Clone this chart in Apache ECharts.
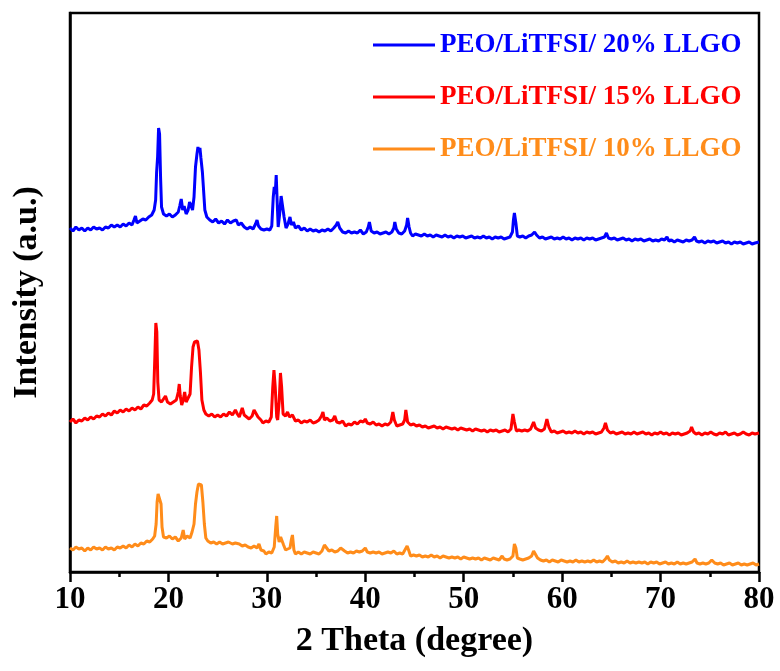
<!DOCTYPE html>
<html>
<head>
<meta charset="utf-8">
<script src="https://cdn.jsdelivr.net/npm/echarts@6/dist/echarts.min.js"></script>
<style>
html,body{margin:0;padding:0;background:#fff;}
#chart{width:780px;height:671px;}
</style>
</head>
<body>
<div id="chart"></div>
<script>
// Series names (legend labels)
const seriesNames = ["PEO/LiTFSI/ 20% LLGO", "PEO/LiTFSI/ 15% LLGO", "PEO/LiTFSI/ 10% LLGO"];
const seriesColors = ["#0000FF", "#FF0000", "#FF8C1A"];

// x tick values (2 Theta, degree)
const xTicks = [10, 20, 30, 40, 50, 60, 70, 80];

// 20% LLGO pattern: [2theta, intensity (a.u., offset stacked)]
const pattern20 = [
[10.0,344],[10.3,341],[10.6,345],[10.9,342],[11.2,344],[11.5,341],[11.8,344],[12.1,342],[12.4,345],[12.7,343],
[13.0,344],[13.3,342],[13.6,345],[13.9,344],[14.2,347],[14.5,345],[14.8,347],[15.1,345],[15.4,348],[15.7,346],
[16.0,349],[16.3,347],[16.5,352],[16.65,356],[16.8,349],[17.1,351],[17.4,353],[17.7,352],[18.0,355],[18.3,357],
[18.55,362],[18.7,372],[18.8,400],[18.9,415],[19.0,444],[19.1,438],[19.2,395],[19.3,365],[19.5,358],[19.8,356],
[20.1,358],[20.4,355],[20.7,357],[21.0,360],[21.15,366],[21.3,373],[21.45,362],[21.6,366],[21.8,358],[22.0,362],
[22.15,370],[22.3,372],[22.45,362],[22.6,375],[22.75,405],[22.9,418],[23.0,425],[23.1,420],[23.2,424],[23.3,414],
[23.45,400],[23.55,385],[23.7,362],[23.9,355],[24.2,352],[24.5,350],[24.8,353],[25.1,349],[25.4,351],[25.7,348],
[26.0,352],[26.3,349],[26.6,351],[26.9,352],[27.1,347],[27.4,349],[27.7,345],[28.0,343],[28.3,345],[28.6,343],
[28.85,348],[29.0,352],[29.15,346],[29.4,343],[29.7,342],[30.0,343],[30.3,342],[30.5,346],[30.65,375],[30.75,385],
[30.85,378],[30.95,397],[31.05,370],[31.15,345],[31.3,358],[31.45,376],[31.6,377],[31.75,355],[31.95,344],[32.15,348],
[32.35,355],[32.5,347],[32.7,350],[32.9,344],[33.2,346],[33.5,342],[33.8,344],[34.1,341],[34.4,343],[34.7,341],
[35.0,342],[35.3,340],[35.6,342],[35.9,341],[36.2,343],[36.5,341],[36.8,344],[37.05,347],[37.2,350],[37.4,344],
[37.7,340],[38.0,339],[38.3,341],[38.6,339],[38.9,340],[39.2,339],[39.5,342],[39.8,338],[40.1,340],[40.3,345],
[40.42,350],[40.6,341],[40.9,339],[41.2,340],[41.5,338],[41.8,339],[42.1,340],[42.4,338],[42.7,340],[42.9,344],
[43.0,350],[43.15,343],[43.4,339],[43.7,338],[44.0,341],[44.2,347],[44.3,354],[44.45,345],[44.6,339],[44.8,336],
[45.1,338],[45.4,337],[45.7,336],[46.0,338],[46.3,336],[46.6,337],[46.9,335],[47.2,337],[47.5,336],[47.8,335],
[48.1,337],[48.4,335],[48.7,336],[49.0,334],[49.3,336],[49.6,335],[49.9,336],[50.2,334],[50.5,335],[50.8,336],
[51.1,334],[51.4,335],[51.7,334],[52.0,336],[52.3,334],[52.6,335],[52.9,333],[53.2,335],[53.5,334],[53.8,335],
[54.1,333],[54.4,334],[54.7,335],[54.95,340],[55.05,352],[55.15,359],[55.3,349],[55.45,336],[55.7,335],[56.0,336],
[56.3,334],[56.6,336],[56.9,337],[57.2,340],[57.4,337],[57.7,334],[58.0,335],[58.3,333],[58.6,334],[58.9,335],
[59.2,333],[59.5,334],[59.8,333],[60.1,335],[60.4,333],[60.7,334],[61.0,332],[61.3,334],[61.6,333],[61.9,334],
[62.2,332],[62.5,334],[62.8,333],[63.1,334],[63.4,332],[63.7,333],[64.0,334],[64.3,335],[64.5,339],[64.7,334],
[65.0,333],[65.3,334],[65.6,332],[65.9,333],[66.2,334],[66.5,332],[66.8,333],[67.1,331],[67.4,333],[67.7,332],
[68.0,333],[68.3,331],[68.6,332],[68.9,333],[69.2,331],[69.5,332],[69.8,331],[70.1,333],[70.4,332],[70.65,335],
[70.85,331],[71.1,332],[71.4,330],[71.7,332],[72.0,331],[72.3,330],[72.6,332],[72.9,331],[73.2,332],[73.45,335],
[73.65,331],[73.9,330],[74.2,331],[74.5,329],[74.8,331],[75.1,330],[75.4,331],[75.7,329],[76.0,330],[76.3,331],
[76.6,329],[76.9,330],[77.2,328],[77.5,330],[77.8,329],[78.1,330],[78.4,328],[78.7,329],[79.0,330],[79.3,328],
[79.6,329],[80.0,330]
];

// 15% LLGO pattern
const pattern15 = [
[10.0,150],[10.3,153],[10.6,149],[10.9,152],[11.2,151],[11.5,154],[11.8,152],[12.1,155],[12.4,153],[12.7,156],
[13.0,155],[13.3,158],[13.6,156],[13.9,159],[14.2,157],[14.5,161],[14.8,159],[15.1,162],[15.4,160],[15.7,163],
[16.0,161],[16.3,164],[16.6,162],[16.9,165],[17.2,163],[17.5,167],[17.8,166],[18.1,169],[18.35,172],[18.5,178],
[18.62,215],[18.72,249],[18.82,240],[18.92,190],[19.05,172],[19.3,170],[19.5,172],[19.7,176],[19.9,170],[20.2,168],
[20.5,170],[20.8,172],[21.0,180],[21.1,188],[21.2,176],[21.35,167],[21.5,172],[21.65,180],[21.8,170],[22.0,174],
[22.2,178],[22.35,205],[22.5,225],[22.65,230],[22.8,228],[22.95,231],[23.1,222],[23.25,200],[23.4,172],[23.6,162],
[23.8,158],[24.1,156],[24.4,158],[24.7,155],[25.0,157],[25.3,155],[25.6,158],[25.9,156],[26.2,160],[26.5,157],
[26.8,162],[27.0,158],[27.2,155],[27.5,164],[27.7,157],[27.9,155],[28.2,153],[28.5,156],[28.7,162],[28.9,164],
[29.1,155],[29.4,152],[29.6,149],[29.9,151],[30.2,150],[30.45,155],[30.6,185],[30.72,202],[30.85,185],[31.0,155],
[31.1,152],[31.25,170],[31.38,199],[31.5,185],[31.65,158],[31.9,156],[32.1,160],[32.3,155],[32.6,157],[32.9,151],
[33.2,152],[33.5,149],[33.8,151],[34.1,150],[34.4,152],[34.7,149],[35.0,150],[35.3,152],[35.55,156],[35.7,160],
[35.85,152],[36.1,154],[36.4,151],[36.7,152],[36.9,156],[37.1,150],[37.4,149],[37.7,151],[38.0,146],[38.3,148],
[38.6,147],[38.9,150],[39.2,148],[39.5,151],[39.8,150],[40.0,153],[40.2,149],[40.5,148],[40.8,150],[41.1,147],
[41.4,148],[41.7,146],[42.0,148],[42.3,147],[42.6,150],[42.8,160],[42.95,152],[43.2,146],[43.5,147],[43.8,148],
[44.0,152],[44.12,162],[44.3,150],[44.6,147],[44.9,148],[45.2,146],[45.5,147],[45.8,145],[46.1,146],[46.4,144],
[46.7,145],[47.0,146],[47.3,144],[47.6,145],[47.9,143],[48.2,145],[48.5,144],[48.8,143],[49.1,144],[49.4,142],
[49.7,144],[50.0,143],[50.3,142],[50.6,143],[50.9,141],[51.2,143],[51.5,142],[51.8,141],[52.1,142],[52.4,140],
[52.7,142],[53.0,141],[53.3,142],[53.6,140],[53.9,141],[54.2,142],[54.5,140],[54.8,143],[55.0,158],[55.15,150],
[55.35,141],[55.6,142],[55.9,141],[56.2,142],[56.5,141],[56.8,143],[57.1,150],[57.3,144],[57.6,142],[57.9,141],
[58.2,143],[58.45,153],[58.65,145],[58.9,140],[59.2,141],[59.5,139],[59.8,140],[60.1,141],[60.4,139],[60.7,140],
[61.0,139],[61.3,141],[61.6,139],[61.9,140],[62.2,138],[62.5,140],[62.8,139],[63.1,140],[63.4,138],[63.7,139],
[64.0,140],[64.25,144],[64.4,149],[64.6,142],[64.9,139],[65.2,140],[65.5,138],[65.8,139],[66.1,140],[66.4,138],
[66.7,139],[67.0,138],[67.3,140],[67.6,138],[67.9,139],[68.2,140],[68.5,138],[68.8,139],[69.1,137],[69.4,139],
[69.7,138],[70.0,140],[70.3,138],[70.6,139],[70.9,137],[71.2,139],[71.5,138],[71.8,139],[72.1,137],[72.4,138],
[72.7,139],[73.0,141],[73.15,145],[73.35,140],[73.6,138],[73.9,139],[74.2,137],[74.5,139],[74.8,138],[75.1,140],
[75.4,138],[75.7,137],[76.0,139],[76.3,138],[76.6,140],[76.9,137],[77.2,138],[77.5,139],[77.8,137],[78.1,138],
[78.4,140],[78.7,138],[79.0,137],[79.3,139],[79.6,138],[80.0,139]
];

// 10% LLGO pattern
const pattern10 = [
[10.0,24],[10.3,22],[10.6,25],[10.9,23],[11.2,24],[11.5,21],[11.8,24],[12.1,22],[12.4,25],[12.7,23],
[13.0,24],[13.3,22],[13.6,25],[13.9,23],[14.2,24],[14.5,22],[14.8,25],[15.1,24],[15.4,26],[15.7,24],
[16.0,27],[16.3,25],[16.6,28],[16.9,26],[17.2,29],[17.5,28],[17.8,31],[18.1,30],[18.4,33],[18.6,36],
[18.75,48],[18.85,70],[18.95,78],[19.05,79],[19.15,77],[19.25,68],[19.35,45],[19.5,35],[19.8,34],[20.1,36],
[20.4,33],[20.7,35],[21.0,31],[21.3,34],[21.5,42],[21.65,33],[21.9,36],[22.2,34],[22.4,40],[22.6,48],
[22.75,68],[22.9,80],[23.05,88],[23.2,90],[23.35,87],[23.5,70],[23.65,48],[23.8,34],[24.0,31],[24.3,29],
[24.6,30],[24.9,28],[25.2,30],[25.5,28],[25.8,29],[26.1,30],[26.3,32],[26.5,28],[26.8,29],[27.0,31],
[27.2,28],[27.5,26],[27.8,27],[28.1,25],[28.4,24],[28.7,26],[29.0,24],[29.2,28],[29.4,22],[29.7,21],
[29.9,18],[30.2,20],[30.5,19],[30.75,25],[30.9,45],[31.0,56],[31.1,38],[31.25,30],[31.4,35],[31.55,34],
[31.7,27],[31.9,22],[32.1,21],[32.35,24],[32.5,33],[32.6,37],[32.75,22],[32.9,18],[33.2,20],[33.5,18],
[33.8,20],[34.1,19],[34.4,18],[34.7,20],[35.0,19],[35.3,18],[35.6,21],[35.85,27],[36.0,25],[36.3,21],
[36.6,22],[36.9,20],[37.2,21],[37.5,24],[37.65,26],[37.9,21],[38.2,19],[38.5,20],[38.8,19],[39.1,21],
[39.4,20],[39.7,21],[40.0,24],[40.2,20],[40.5,19],[40.8,20],[41.1,19],[41.4,20],[41.7,18],[42.0,19],
[42.3,20],[42.6,19],[42.9,21],[43.2,18],[43.5,19],[43.8,18],[44.0,20],[44.25,26],[44.4,22],[44.6,16],
[44.9,17],[45.2,16],[45.5,17],[45.8,15],[46.1,16],[46.4,15],[46.7,17],[47.0,15],[47.3,16],[47.6,14],
[47.9,16],[48.2,15],[48.5,14],[48.8,15],[49.1,14],[49.4,15],[49.7,13],[50.0,15],[50.3,14],[50.6,13],
[50.9,14],[51.2,13],[51.5,14],[51.8,12],[52.1,14],[52.4,13],[52.7,12],[53.0,14],[53.3,13],[53.6,12],
[53.9,16],[54.1,13],[54.4,12],[54.7,13],[55.0,16],[55.15,28],[55.3,24],[55.45,14],[55.7,13],[56.0,12],
[56.3,13],[56.6,14],[56.9,16],[57.1,21],[57.3,19],[57.5,14],[57.8,12],[58.1,11],[58.4,12],[58.7,10],
[59.0,12],[59.3,11],[59.6,10],[59.9,12],[60.2,11],[60.5,10],[60.8,11],[61.1,10],[61.4,12],[61.7,10],
[62.0,11],[62.3,10],[62.6,11],[62.9,10],[63.2,12],[63.5,10],[63.8,11],[64.1,10],[64.4,13],[64.6,16],
[64.8,12],[65.1,10],[65.4,11],[65.7,9],[66.0,10],[66.3,9],[66.6,11],[66.9,9],[67.2,10],[67.5,9],
[67.8,10],[68.1,9],[68.4,10],[68.7,8],[69.0,10],[69.3,9],[69.6,10],[69.9,8],[70.2,9],[70.5,10],
[70.8,8],[71.1,9],[71.4,8],[71.7,10],[72.0,8],[72.3,9],[72.6,8],[72.9,9],[73.2,10],[73.5,13],
[73.7,9],[74.0,8],[74.3,9],[74.6,8],[74.9,9],[75.2,12],[75.35,13],[75.5,9],[75.8,8],[76.1,9],
[76.4,7],[76.7,8],[77.0,9],[77.3,7],[77.6,8],[77.9,9],[78.2,7],[78.5,8],[78.8,7],[79.1,8],
[79.4,9],[79.7,7],[80.0,8]
];

const patterns = [pattern20, pattern15, pattern10];
const FONT = '"Liberation Serif", "Times New Roman", serif';

const chart = echarts.init(document.getElementById('chart'), null, {renderer: 'canvas'});
const option = {
  backgroundColor: '#ffffff',
  animation: false,
  grid: {
    left: 70, right: 21, top: 13, bottom: 99,
    show: true, borderColor: '#000', borderWidth: 2.5, backgroundColor: 'transparent'
  },
  legend: {
    orient: 'vertical',
    left: 368, top: 25,
    itemWidth: 62, itemHeight: 3, itemGap: 22,
    icon: 'rect',
    data: seriesNames.map((n, i) => ({
      name: n,
      icon: 'rect',
      itemStyle: {color: seriesColors[i]},
      textStyle: {color: seriesColors[i]}
    })),
    textStyle: {fontFamily: FONT, fontWeight: 'bold', fontSize: 27, lineHeight: 30, padding: 0}
  },
  xAxis: {
    type: 'value', min: 10, max: 80, interval: 10,
    name: '2 Theta (degree)', nameLocation: 'middle', nameGap: 52,
    nameTextStyle: {fontFamily: FONT, fontWeight: 'bold', fontSize: 34, color: '#000'},
    axisLine: {show: true, lineStyle: {color: '#000', width: 2.5}},
    axisTick: {show: true, inside: false, length: 10, lineStyle: {color: '#000', width: 2.5}},
    minorTick: {show: true, splitNumber: 2, length: 5, lineStyle: {color: '#000', width: 2.5}},
    axisLabel: {
      fontFamily: FONT, fontWeight: 'bold', fontSize: 31, color: '#000', margin: 12,
      formatter: v => xTicks.includes(v) ? String(v) : ''
    },
    splitLine: {show: false}
  },
  yAxis: {
    type: 'value', min: 0, max: 559,
    name: 'Intensity (a.u.)', nameLocation: 'middle', nameGap: 26, nameRotate: 90,
    nameTextStyle: {fontFamily: FONT, fontWeight: 'bold', fontSize: 34, color: '#000'},
    axisLine: {show: true, lineStyle: {color: '#000', width: 2.5}},
    axisTick: {show: false},
    axisLabel: {show: false},
    splitLine: {show: false}
  },
  series: seriesNames.map((n, i) => ({
    name: n,
    type: 'line',
    data: patterns[i],
    showSymbol: false,
    symbol: 'none',
    smooth: false,
    color: seriesColors[i],
    lineStyle: {color: seriesColors[i], width: 3},
    z: 3 - i
  }))
};
chart.setOption(option);
</script>
</body>
</html>
